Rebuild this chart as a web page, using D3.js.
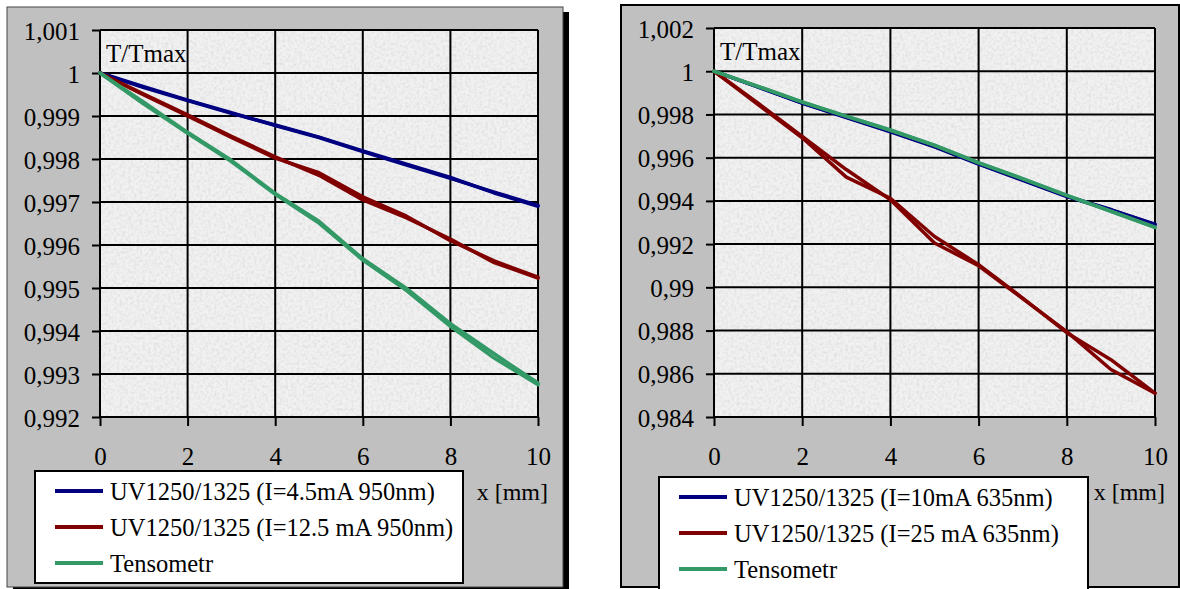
<!DOCTYPE html>
<html>
<head>
<meta charset="utf-8">
<script src="https://cdn.jsdelivr.net/npm/d3@7"></script>
<style>
  body { margin: 0; background: #fff; }
  svg { display: block; }
  text { font-family: "Liberation Serif", "Times New Roman", serif; fill: #000; }
</style>
</head>
<body>
<svg id="chart" width="1180" height="589"></svg>
<script>
// x positions [mm]
const xMm = [0, 1, 2, 3, 4, 5, 6, 7, 8, 9, 10]

// left chart (950nm), each sensor measured twice (load / unload)
const leftBlueA = [1, 0.99968, 0.99937, 0.99908, 0.99878, 0.99850, 0.99817, 0.99786, 0.99755, 0.99723, 0.99692]
const leftBlueB = [1, 0.99966, 0.99936, 0.99906, 0.99879, 0.99851, 0.99819, 0.99788, 0.99757, 0.99721, 0.99690]
const leftRedA = [1, 0.99951, 0.99903, 0.99853, 0.99805, 0.99762, 0.99705, 0.99663, 0.99614, 0.99559, 0.99523]
const leftRedB = [1, 0.99949, 0.99900, 0.99850, 0.99802, 0.99768, 0.99712, 0.99667, 0.99610, 0.99563, 0.99525]
const leftGreenA = [1, 0.99932, 0.99862, 0.99797, 0.99720, 0.99655, 0.99568, 0.99499, 0.99417, 0.99347, 0.99279]
const leftGreenB = [1, 0.99928, 0.99860, 0.99794, 0.99718, 0.99651, 0.99565, 0.99494, 0.99411, 0.99337, 0.99275]

// right chart (635nm)
const rightBlueA = [1, 0.99926, 0.99852, 0.99785, 0.99720, 0.99650, 0.99570, 0.99495, 0.99420, 0.99358, 0.99292]
const rightBlueB = [1, 0.99928, 0.99853, 0.99788, 0.99722, 0.99652, 0.99572, 0.99497, 0.99422, 0.99360, 0.99290]
const rightRedA = [1, 0.99852, 0.99698, 0.99545, 0.99405, 0.99205, 0.99100, 0.98948, 0.98795, 0.98620, 0.98510]
const rightRedB = [1, 0.99845, 0.99692, 0.99510, 0.99412, 0.99235, 0.99105, 0.98950, 0.98790, 0.98665, 0.98510]
const rightGreenA = [1, 0.99930, 0.99858, 0.99792, 0.99728, 0.99658, 0.99577, 0.99503, 0.99426, 0.99352, 0.99278]
const rightGreenB = [1, 0.99929, 0.99857, 0.99791, 0.99727, 0.99657, 0.99576, 0.99502, 0.99425, 0.99351, 0.99277]

const leftLegend = ["UV1250/1325 (I=4.5mA 950nm)", "UV1250/1325 (I=12.5 mA 950nm)", "Tensometr"]
const rightLegend = ["UV1250/1325 (I=10mA 635nm)", "UV1250/1325 (I=25 mA 635nm)", "Tensometr"]
const seriesColors = ["#000080", "#800000", "#339966"]
const xTicks = [0, 2, 4, 6, 8, 10]

const fmt = d3.formatLocale({ decimal: ",", thousands: " ", grouping: [3], currency: ["", ""] }).format(".3~f")

const svg = d3.select("#chart")

// granite-like texture for the plot area
const defs = svg.append("defs")
const filt = defs.append("filter").attr("id", "granite")
  .attr("x", 0).attr("y", 0).attr("width", 1).attr("height", 1)
filt.append("feTurbulence").attr("type", "fractalNoise")
  .attr("baseFrequency", 0.35).attr("numOctaves", 2).attr("seed", 4)
filt.append("feColorMatrix").attr("type", "matrix")
  .attr("values", "0 0 0 0 0.66  0 0 0 0 0.66  0 0 0 0 0.66  1.3 0 0 0 -0.52")

function drawChart(c) {
  const g = svg.append("g")
  const [bx, by, bw, bh] = c.box

  if (c.shadow)
    g.append("rect").attr("x", bx + 6).attr("y", by + 5).attr("width", bw).attr("height", bh).attr("fill", "#000")
  g.append("rect").attr("x", bx).attr("y", by).attr("width", bw).attr("height", bh)
    .attr("fill", "#c0c0c0").attr("stroke", c.shadow ? "#444" : "#000").attr("stroke-width", c.shadow ? 1 : 2)

  const x = d3.scaleLinear().domain([0, 10]).range([c.plot[0], c.plot[2]])
  const y = d3.scaleLinear().domain(c.yDomain).range([c.plot[3], c.plot[1]])
  const pw = c.plot[2] - c.plot[0], ph = c.plot[3] - c.plot[1]

  g.append("rect").attr("x", c.plot[0]).attr("y", c.plot[1]).attr("width", pw).attr("height", ph).attr("fill", "#f1f1f1")
  g.append("rect").attr("x", c.plot[0]).attr("y", c.plot[1]).attr("width", pw).attr("height", ph)
    .attr("fill", "#fff").attr("filter", "url(#granite)")

  const n = Math.round((c.yDomain[1] - c.yDomain[0]) / c.yStep)
  const yTicks = d3.range(n + 1).map(i => +(c.yDomain[0] + i * c.yStep).toFixed(3))

  // grid
  g.append("g").selectAll("line").data(yTicks).join("line")
    .attr("x1", c.plot[0]).attr("x2", c.plot[2])
    .attr("y1", d => y(d)).attr("y2", d => y(d))
    .attr("stroke", "#000").attr("stroke-width", 2)
  g.append("g").selectAll("line").data(xTicks).join("line")
    .attr("y1", c.plot[1]).attr("y2", c.plot[3])
    .attr("x1", d => x(d)).attr("x2", d => x(d))
    .attr("stroke", "#000").attr("stroke-width", 2)

  // axes
  const ya = g.append("g").attr("transform", `translate(${c.plot[0]},0)`)
    .call(d3.axisLeft(y).tickValues(yTicks).tickSizeInner(8).tickSizeOuter(0).tickPadding(12).tickFormat(fmt))
  const xa = g.append("g").attr("transform", `translate(0,${c.plot[3]})`)
    .call(d3.axisBottom(x).tickValues(xTicks).tickSizeInner(9).tickSizeOuter(0).tickPadding(21).tickFormat(d3.format("d")))
  for (const a of [ya, xa]) {
    a.select(".domain").remove()
    a.selectAll("line").attr("stroke", "#000").attr("stroke-width", 2)
    a.selectAll("text").attr("font-size", 25).attr("font-family", null)
  }
  ya.selectAll("text").attr("dy", "0.36em")

  // series
  const line = d3.line().x((d, i) => x(xMm[i])).y(d => y(d))
  c.series.forEach((pair, k) => {
    pair.forEach(vals => {
      g.append("path").datum(vals).attr("d", line)
        .attr("fill", "none").attr("stroke", seriesColors[k])
        .attr("stroke-width", 3.5).attr("stroke-linejoin", "round").attr("stroke-linecap", "round")
    })
  })

  g.append("text").attr("x", c.plot[0] + 6).attr("y", c.titleY).attr("font-size", 25).text("T/Tmax")
  g.append("text").attr("x", c.plot[2] + 10).attr("y", 500).attr("text-anchor", "end")
    .attr("font-size", 24).text("x [mm]")

  // legend
  const [lx, ly, lw, lh] = c.legend
  const lg = g.append("g")
  lg.append("rect").attr("x", lx).attr("y", ly).attr("width", lw).attr("height", lh)
    .attr("fill", "#fff").attr("stroke", "#000").attr("stroke-width", 2)
  const item = lg.selectAll(".item").data(c.labels).join("g").attr("class", "item")
    .attr("transform", (d, i) => `translate(${lx + 20},${ly + 20 + i * 36})`)
  item.append("line").attr("x1", 0).attr("x2", 48)
    .attr("stroke", (d, i) => seriesColors[i]).attr("stroke-width", 4)
  item.append("text").attr("x", 55).attr("y", 9).attr("font-size", 24.5).text(d => d)
}

drawChart({
  box: [7, 7, 556, 580], shadow: true,
  plot: [100, 30, 538, 417],
  yDomain: [0.992, 1.001], yStep: 0.001,
  titleY: 62,
  series: [[leftBlueA, leftBlueB], [leftRedA, leftRedB], [leftGreenA, leftGreenB]],
  labels: leftLegend,
  legend: [35, 471, 428, 112]
})

drawChart({
  box: [621, 5, 558, 582], shadow: false,
  plot: [714, 28, 1155, 417],
  yDomain: [0.984, 1.002], yStep: 0.002,
  titleY: 60,
  series: [[rightBlueA, rightBlueB], [rightRedA, rightRedB], [rightGreenA, rightGreenB]],
  labels: rightLegend,
  legend: [659, 477, 429, 130]
})
</script>
</body>
</html>
